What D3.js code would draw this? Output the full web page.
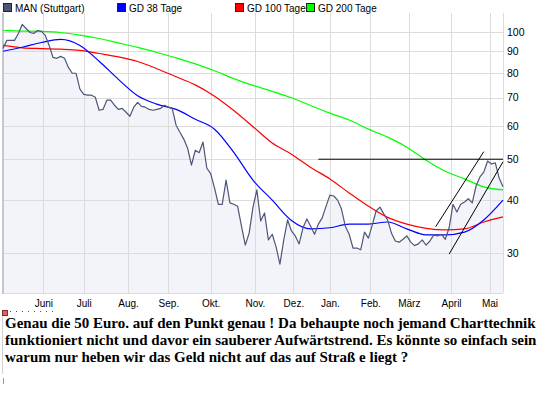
<!DOCTYPE html>
<html lang="de">
<head>
<meta charset="utf-8">
<title>MAN (Stuttgart)</title>
<script src="https://d3js.org/d3.v7.min.js"></script>
<style>
body{margin:0;background:#fff;}
svg{display:block;font-family:Arial,"Liberation Sans",sans-serif;}
.note{font-family:"Liberation Serif","Times New Roman",serif;font-weight:bold;font-size:15px;}
</style>
</head>
<body>
<svg id="chart" width="545" height="395"></svg>
<script>
// trading calendar, May 2008 - May 2009 (Stuttgart closing days)
var startDate = "2008-05-02"
var numDays = 261
var holidays = ["2008-12-24","2008-12-25","2008-12-26","2008-12-31","2009-01-01","2009-04-10","2009-04-13","2009-05-01"]

var monthLabels = ["Juni","Juli","Aug.","Sep.","Okt.","Nov.","Dez.","Jan.","Feb.","März","April","Mai"]
var yTicks = [30,40,50,60,70,80,90,100]

// closing prices, every 2nd trading day from startDate
var closeStep = 2
var closes = [91.5,95.6,95.6,95.6,99.3,104.3,102.0,99.8,99.3,100.9,
  100.4,98.2,93.0,87.1,86.7,87.6,86.7,82.5,79.9,79.9,
  73.3,71.2,70.9,70.9,70.1,65.3,65.6,69.0,69.0,67.1,
  65.6,66.0,64.6,63.2,66.4,68.2,66.7,66.4,65.6,65.3,
  65.6,66.0,67.1,66.4,66.0,60.2,57.9,55.8,53.1,48.4,
  52.5,51.8,54.9,47.6,46.2,42.7,39.1,39.1,44.6,39.4,
  39.1,38.7,34.7,31.3,33.4,38.5,42.3,35.7,37.3,32.2,
  33.2,31.0,28.2,32.2,35.9,33.8,32.9,31.5,34.4,36.1,
  34.7,33.2,35.1,36.3,38.7,41.1,40.9,40.0,38.1,34.7,
  33.2,30.8,30.8,30.5,33.6,32.5,34.9,37.7,38.5,37.1,
  35.9,33.4,32.0,31.8,32.3,32.9,31.8,31.2,31.5,32.2,
  31.3,32.0,33.1,32.9,33.2,32.3,34.4,39.1,37.5,39.1,
  39.6,40.3,39.4,43.2,45.4,46.6,49.5,48.7,49.0,45.1,
  43.0]

// moving averages, every 10th trading day from startDate
var maStep = 10
var gd38 = [90.1,92.1,94.5,96.1,93.0,85.3,77.3,70.7,67.5,65.6,
  62.2,58.9,51.9,44.6,40.0,35.8,34.2,34.4,35.1,35.1,
  35.5,34.2,33.1,33.1,33.6,35.9,40.0]
var gd100 = [93.0,91.8,91.4,91.1,90.5,89.0,87.4,85.2,81.9,78.4,
  75.0,70.5,65.2,59.7,54.6,51.4,47.8,44.9,41.6,38.7,
  36.4,35.1,34.3,34.0,34.2,35.5,36.5]
var gd200 = [100.9,100.6,100.4,99.8,98.4,96.6,94.3,92.0,89.5,86.9,
  84.1,81.0,77.6,74.8,72.4,69.9,67.0,64.3,61.9,58.9,
  56.4,53.4,49.7,46.8,44.9,43.0,42.3]

// hand-drawn trend lines: [date, value] pairs
var trendLines = [
  [["2008-12-18",50],["2009-05-13",50]],
  [["2009-03-20",34.6],["2009-04-28",52.1]],
  [["2009-03-31",29.8],["2009-05-13",49.3]]
]

var legendNames = ["MAN (Stuttgart)","GD 38 Tage","GD 100 Tage","GD 200 Tage"]
var legendColors = ["#4d5677","#0000ff","#ff0000","#00ff00"]

var noteLines = [
  "Genau die 50 Euro. auf den Punkt genau ! Da behaupte noch jemand Charttechnik",
  "funktioniert nicht und davor ein sauberer Aufwärtstrend. Es könnte so einfach sein",
  "warum nur heben wir das Geld nicht auf das auf Straß e liegt ?"
]

// build calendar
var parse = d3.utcParse("%Y-%m-%d"), fmt = d3.utcFormat("%Y-%m-%d")
var tradingDays = []
var d = parse(startDate)
while(tradingDays.length < numDays){
  var wd = d.getUTCDay()
  var s = fmt(d)
  if(wd != 0 && wd != 6 && holidays.indexOf(s) < 0) tradingDays.push(s)
  d = d3.utcDay.offset(d,1)
}
function dayIndex(s){ return tradingDays.indexOf(s) }

var monthStarts = []
tradingDays.forEach(function(s,i){
  if(i > 0 && s.slice(5,7) != tradingDays[i-1].slice(5,7)) monthStarts.push(i)
})

var plotLeft = 3, plotRight = 503, plotTop = 13, plotBottom = 293
var x = d3.scaleLinear().domain([0,numDays-1]).range([plotLeft,plotRight])
var y = d3.scaleLog().domain([24.1,111]).range([plotBottom,plotTop])

var svg = d3.select("#chart")

var priceData = closes.map(function(v,i){ return {i:i*closeStep, v:v} })
function maData(arr){ return arr.map(function(v,i){ return {i:Math.min(i*maStep,numDays-1), v:v} }) }

// area under price
svg.append("path")
  .datum(priceData)
  .attr("fill","#f3f4fa")
  .attr("d",d3.area().x(function(p){return x(p.i)}).y0(plotBottom).y1(function(p){return y(p.v)}))

// grid
var grid = svg.append("g").attr("stroke","#dcdcdc").attr("shape-rendering","crispEdges")
grid.selectAll(".v").data(monthStarts).enter().append("line")
  .attr("x1",function(i){return Math.round(x(i))+0.5}).attr("x2",function(i){return Math.round(x(i))+0.5})
  .attr("y1",plotTop).attr("y2",plotBottom)
grid.selectAll(".h").data(yTicks).enter().append("line")
  .attr("x1",plotLeft).attr("x2",plotRight)
  .attr("y1",function(v){return Math.round(y(v))+0.5}).attr("y2",function(v){return Math.round(y(v))+0.5})
grid.append("line").attr("x1",plotRight+0.5).attr("x2",plotRight+0.5).attr("y1",plotTop).attr("y2",plotBottom)
grid.append("line").attr("x1",plotLeft).attr("x2",plotRight).attr("y1",plotBottom+0.5).attr("y2",plotBottom+0.5)
svg.append("line").attr("x1",plotLeft).attr("x2",plotLeft).attr("y1",plotTop).attr("y2",plotBottom+1)
  .attr("stroke","#c4c7d0").attr("stroke-width",2)

// moving averages
var line = d3.line().x(function(p){return x(p.i)}).y(function(p){return y(p.v)})
var smooth = d3.line().curve(d3.curveMonotoneX).x(function(p){return x(p.i)}).y(function(p){return y(p.v)})
;[[gd200,legendColors[3]],[gd100,legendColors[2]],[gd38,legendColors[1]]].forEach(function(m){
  svg.append("path").datum(maData(m[0]))
    .attr("fill","none").attr("stroke",m[1]).attr("stroke-width",1.2)
    .attr("d",smooth)
})

// price
svg.append("path").datum(priceData)
  .attr("fill","none").attr("stroke",legendColors[0]).attr("stroke-width",1.2)
  .attr("stroke-linejoin","round")
  .attr("d",line)

// trend lines
svg.selectAll(".trend").data(trendLines).enter().append("line")
  .attr("stroke","#000").attr("stroke-width",1)
  .attr("x1",function(t){return x(dayIndex(t[0][0]))})
  .attr("y1",function(t){return y(t[0][1])})
  .attr("x2",function(t){return x(dayIndex(t[1][0]))})
  .attr("y2",function(t){return y(t[1][1])})

// axes
var xAxis = svg.append("g").attr("transform","translate(0,"+plotBottom+")")
  .call(d3.axisBottom(x).tickValues(monthStarts).tickSize(0).tickPadding(7)
    .tickFormat(function(i,k){return monthLabels[k]}))
xAxis.select(".domain").remove()
xAxis.selectAll("text").attr("font-size","10px").attr("fill","#000").attr("font-family","Arial, Liberation Sans, sans-serif")

var yAxis = svg.append("g").attr("transform","translate("+plotRight+",0)")
  .call(d3.axisRight(y).tickValues(yTicks).tickSize(0).tickPadding(4).tickFormat(d3.format("d")))
yAxis.select(".domain").remove()
yAxis.selectAll("text").attr("font-size","10.5px").attr("fill","#000").attr("font-family","Arial, Liberation Sans, sans-serif")

// legend
var legendX = [3,117,235,306]
var lg = svg.selectAll(".lg").data(legendNames).enter().append("g")
  .attr("transform",function(n,i){return "translate("+legendX[i]+",3)"})
lg.append("rect").attr("x",0.5).attr("y",0.5).attr("width",8).attr("height",8)
  .attr("fill",function(n,i){return legendColors[i]}).attr("stroke","#222")
lg.append("text").attr("x",12).attr("y",8.5).attr("font-size","10px").text(function(n){return n})

// note below the chart
svg.append("rect").attr("x",2.5).attr("y",310.5).attr("width",5).attr("height",5)
  .attr("fill","#e06060").attr("stroke","#803030")
svg.append("line").attr("x1",10).attr("x2",54).attr("y1",311.5).attr("y2",311.5)
  .attr("stroke","#555").attr("stroke-dasharray","1,5")
svg.append("line").attr("x1",2.5).attr("x2",2.5).attr("y1",316).attr("y2",374)
  .attr("stroke","#d0d0d0")
svg.append("line").attr("x1",3.5).attr("x2",3.5).attr("y1",378).attr("y2",384)
  .attr("stroke","#60c060")
svg.selectAll(".note").data(noteLines).enter().append("text")
  .attr("class","note").attr("x",5).attr("y",function(t,i){return 328+i*17}).text(function(t){return t})
</script>
</body>
</html>
